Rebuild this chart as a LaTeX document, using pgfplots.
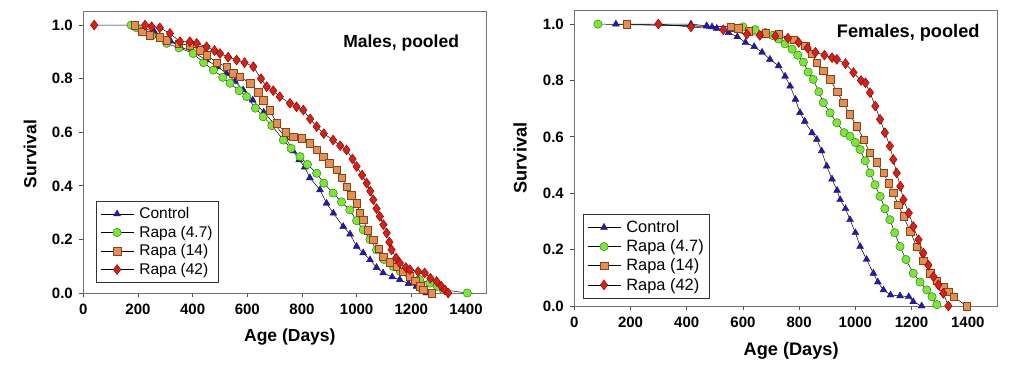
\documentclass[border=0pt]{standalone}
\usepackage{pgfplots}
\pgfplotsset{compat=1.18}
\usepackage{fontspec}
\setmainfont{Liberation Sans}
\definecolor{ctrlfill}{RGB}{30,20,210}
\definecolor{grnfill}{RGB}{120,232,50}
\definecolor{grnedge}{RGB}{40,110,20}
\definecolor{orgfill}{RGB}{232,140,80}
\definecolor{orgedge}{RGB}{130,70,30}
\definecolor{redfill}{RGB}{222,30,20}
\definecolor{rededge}{RGB}{110,10,10}
\begin{document}
\begin{tikzpicture}
\useasboundingbox (0pt,0pt) rectangle (1024pt,368pt);
\pgfplotsset{
 km/.style={
  scale only axis, xmin=0, ymin=0, ymax=1.05,
  axis line style={black!55, line width=0.8pt},
  tick align=outside, xtick pos=bottom, ytick pos=left,
  major tick length=4pt,
  tick style={black!70, line width=0.8pt},
  xtick={0,200,400,600,800,1000,1200,1400},
  ytick={0,0.2,0.4,0.6,0.8,1.0},
  xticklabel style={yshift=-3.5pt},
  yticklabel style={xshift=-3pt, /pgf/number format/.cd, fixed, fixed zerofill, precision=1},
  /pgf/number format/1000 sep={},
  /pgf/number format/assume math mode=true,
  tick label style={font=\fontsize{15}{15}\selectfont\bfseries},
  xlabel={Age (Days)}, ylabel={Survival},
  legend cell align=left,
  legend style={draw=black!80, line width=0.9pt, anchor=south west,
    row sep=2.8pt, column sep=4pt, inner xsep=4pt, inner ysep=5pt,
    nodes={inner sep=1.5pt}},
  legend image code/.code={\draw[mark repeat=2,mark phase=2,line width=0.6pt] plot coordinates {(0cm,0cm) (0.58cm,0cm) (1.16cm,0cm)};},
 },
 ctrl/.style={black, line width=0.5pt, mark=triangle*, mark size=4pt, mark options={fill=ctrlfill, draw=black!85, line width=0.4pt}},
 grn/.style={black, line width=0.5pt, mark=*, mark size=4.2pt, mark options={fill=grnfill, draw=grnedge, line width=0.4pt}},
 org/.style={black, line width=0.5pt, mark=square*, mark size=3.7pt, mark options={fill=orgfill, draw=orgedge, line width=0.4pt}},
 red/.style={black, line width=0.5pt, mark=diamond*, mark size=5pt, mark options={fill=redfill, draw=rededge, line width=0.4pt}},
}
% ---------------- Males ----------------
\begin{axis}[km, at={(83.3pt,75pt)}, anchor=south west,
  width=403.4pt, height=281.3pt, xmax=1476,
  label style={font=\fontsize{17.5}{18}\selectfont\bfseries},
  xlabel style={at={(axis description cs:0.512,-0.155)}, anchor=center},
  ylabel style={at={(axis description cs:-0.132,0.494)}, anchor=center},
  legend style={at={(0.031,0.036)}, font=\fontsize{15.5}{16}\selectfont}]
\addplot[ctrl] coordinates {(190,1.0) (260,0.975) (320,0.94) (354,0.919) (400,0.9) (450,0.87) (490,0.845) (524,0.82) (555,0.79) (585,0.758) (620,0.72) (660,0.675) (700,0.63) (740,0.58) (768,0.53) (790,0.497) (810,0.47) (829,0.43) (866,0.385) (890,0.335) (915,0.298) (951,0.248) (976,0.22) (1000,0.174) (1024,0.15) (1049,0.124) (1073,0.095) (1097,0.075) (1130,0.06) (1158,0.05) (1190,0.035) (1219,0.025) (1240,0.012) (1255,0)};
\addlegendentry{Control}
\addplot[grn] coordinates {(175,1.0) (195,0.99) (250,0.96) (305,0.932) (350,0.915) (402,0.894) (440,0.86) (476,0.832) (510,0.805) (537,0.783) (570,0.755) (598,0.733) (630,0.69) (658,0.658) (690,0.625) (732,0.571) (760,0.54) (793,0.509) (820,0.48) (854,0.447) (880,0.41) (914,0.373) (945,0.34) (975,0.31) (1000,0.27) (1024,0.236) (1049,0.2) (1073,0.161) (1100,0.125) (1134,0.099) (1160,0.08) (1195,0.062) (1230,0.05) (1268,0.037) (1295,0.025) (1317,0.012) (1405,0)};
\addlegendentry{Rapa (4.7)}
\addplot[org] coordinates {(189,1.0) (215,0.975) (244,0.963) (280,0.955) (305,0.944) (350,0.93) (390,0.925) (427,0.907) (451,0.888) (488,0.86) (524,0.845) (549,0.82) (573,0.807) (610,0.783) (640,0.75) (658,0.72) (683,0.683) (707,0.634) (740,0.6) (768,0.584) (800,0.578) (829,0.559) (855,0.535) (878,0.509) (900,0.485) (927,0.46) (945,0.43) (963,0.397) (980,0.365) (1000,0.335) (1012,0.3) (1024,0.273) (1040,0.235) (1061,0.199) (1080,0.165) (1097,0.136) (1120,0.115) (1146,0.099) (1170,0.08) (1195,0.062) (1215,0.045) (1232,0.025) (1244,0.012) (1274,0)};
\addlegendentry{Rapa (14)}
\addplot[red] coordinates {(40,1.0) (226,1.0) (250,0.994) (280,0.99) (317,0.969) (354,0.938) (390,0.938) (415,0.932) (451,0.919) (480,0.905) (500,0.894) (530,0.88) (561,0.87) (590,0.86) (622,0.845) (650,0.8) (671,0.77) (695,0.755) (719,0.733) (756,0.708) (780,0.695) (805,0.683) (830,0.65) (854,0.621) (880,0.595) (914,0.571) (940,0.55) (963,0.534) (985,0.5) (1000,0.472) (1020,0.44) (1037,0.41) (1050,0.38) (1061,0.348) (1073,0.315) (1085,0.286) (1098,0.255) (1110,0.224) (1120,0.19) (1128,0.161) (1145,0.13) (1158,0.112) (1180,0.095) (1195,0.087) (1225,0.08) (1249,0.075) (1270,0.055) (1293,0.043) (1310,0.025) (1323,0.012) (1335,0)};
\addlegendentry{Rapa (42)}
\node[anchor=east, font=\fontsize{17.5}{18}\selectfont\bfseries] at (rel axis cs:0.94,0.889) {Males, pooled};
\end{axis}
% ---------------- Females ----------------
\begin{axis}[km, at={(574.3pt,62pt)}, anchor=south west,
  width=422.7pt, height=296pt, xmax=1504,
  label style={font=\fontsize{18.2}{19}\selectfont\bfseries},
  xlabel style={at={(axis description cs:0.513,-0.150)}, anchor=center},
  ylabel style={at={(axis description cs:-0.128,0.5)}, anchor=center},
  legend style={at={(0.02,0.025)}, font=\fontsize{16.4}{17}\selectfont}]
\addplot[ctrl] coordinates {(148,1.0) (415,1.0) (471,0.994) (490,0.99) (507,0.985) (549,0.97) (580,0.955) (609,0.935) (640,0.92) (668,0.9) (696,0.875) (727,0.852) (750,0.815) (768,0.78) (787,0.733) (803,0.686) (820,0.655) (846,0.614) (863,0.591) (880,0.55) (898,0.496) (917,0.45) (935,0.41) (946,0.377) (965,0.345) (981,0.306) (1000,0.26) (1017,0.211) (1040,0.165) (1064,0.116) (1080,0.085) (1100,0.057) (1125,0.039) (1159,0.036) (1190,0.033) (1206,0.015) (1236,0)};
\addlegendentry{Control}
\addplot[grn] coordinates {(84,1.0) (600,0.99) (643,0.98) (680,0.97) (705,0.96) (727,0.947) (750,0.93) (775,0.911) (795,0.89) (815,0.865) (832,0.83) (850,0.804) (870,0.76) (886,0.721) (910,0.685) (934,0.65) (960,0.615) (981,0.602) (1000,0.58) (1017,0.555) (1035,0.515) (1052,0.472) (1070,0.43) (1088,0.389) (1105,0.345) (1123,0.306) (1140,0.26) (1159,0.211) (1180,0.165) (1206,0.116) (1230,0.085) (1254,0.057) (1273,0.033) (1290,0.005)};
\addlegendentry{Rapa (4.7)}
\addplot[org] coordinates {(186,1.0) (556,0.99) (583,0.985) (620,0.975) (680,0.968) (727,0.964) (780,0.945) (822,0.923) (845,0.895) (863,0.864) (885,0.835) (910,0.804) (935,0.76) (957,0.721) (980,0.68) (1005,0.638) (1030,0.59) (1052,0.543) (1075,0.51) (1100,0.472) (1118,0.435) (1135,0.401) (1152,0.36) (1171,0.318) (1195,0.265) (1218,0.211) (1242,0.16) (1266,0.116) (1290,0.09) (1313,0.069) (1330,0.05) (1349,0.033) (1396,0)};
\addlegendentry{Rapa (14)}
\addplot[red] coordinates {(299,1.0) (415,0.99) (530,0.98) (614,0.964) (660,0.96) (715,0.958) (760,0.95) (798,0.935) (830,0.915) (858,0.9) (890,0.89) (917,0.881) (934,0.875) (965,0.86) (993,0.828) (1020,0.8) (1036,0.792) (1052,0.757) (1071,0.709) (1088,0.662) (1105,0.615) (1123,0.567) (1135,0.52) (1147,0.472) (1160,0.425) (1171,0.377) (1190,0.33) (1206,0.282) (1225,0.235) (1242,0.188) (1260,0.145) (1278,0.104) (1295,0.075) (1313,0.045) (1331,0)};
\addlegendentry{Rapa (42)}
\node[anchor=east, font=\fontsize{18.2}{19}\selectfont\bfseries] at (rel axis cs:0.967,0.922) {Females, pooled};
\end{axis}
\end{tikzpicture}
\end{document}
